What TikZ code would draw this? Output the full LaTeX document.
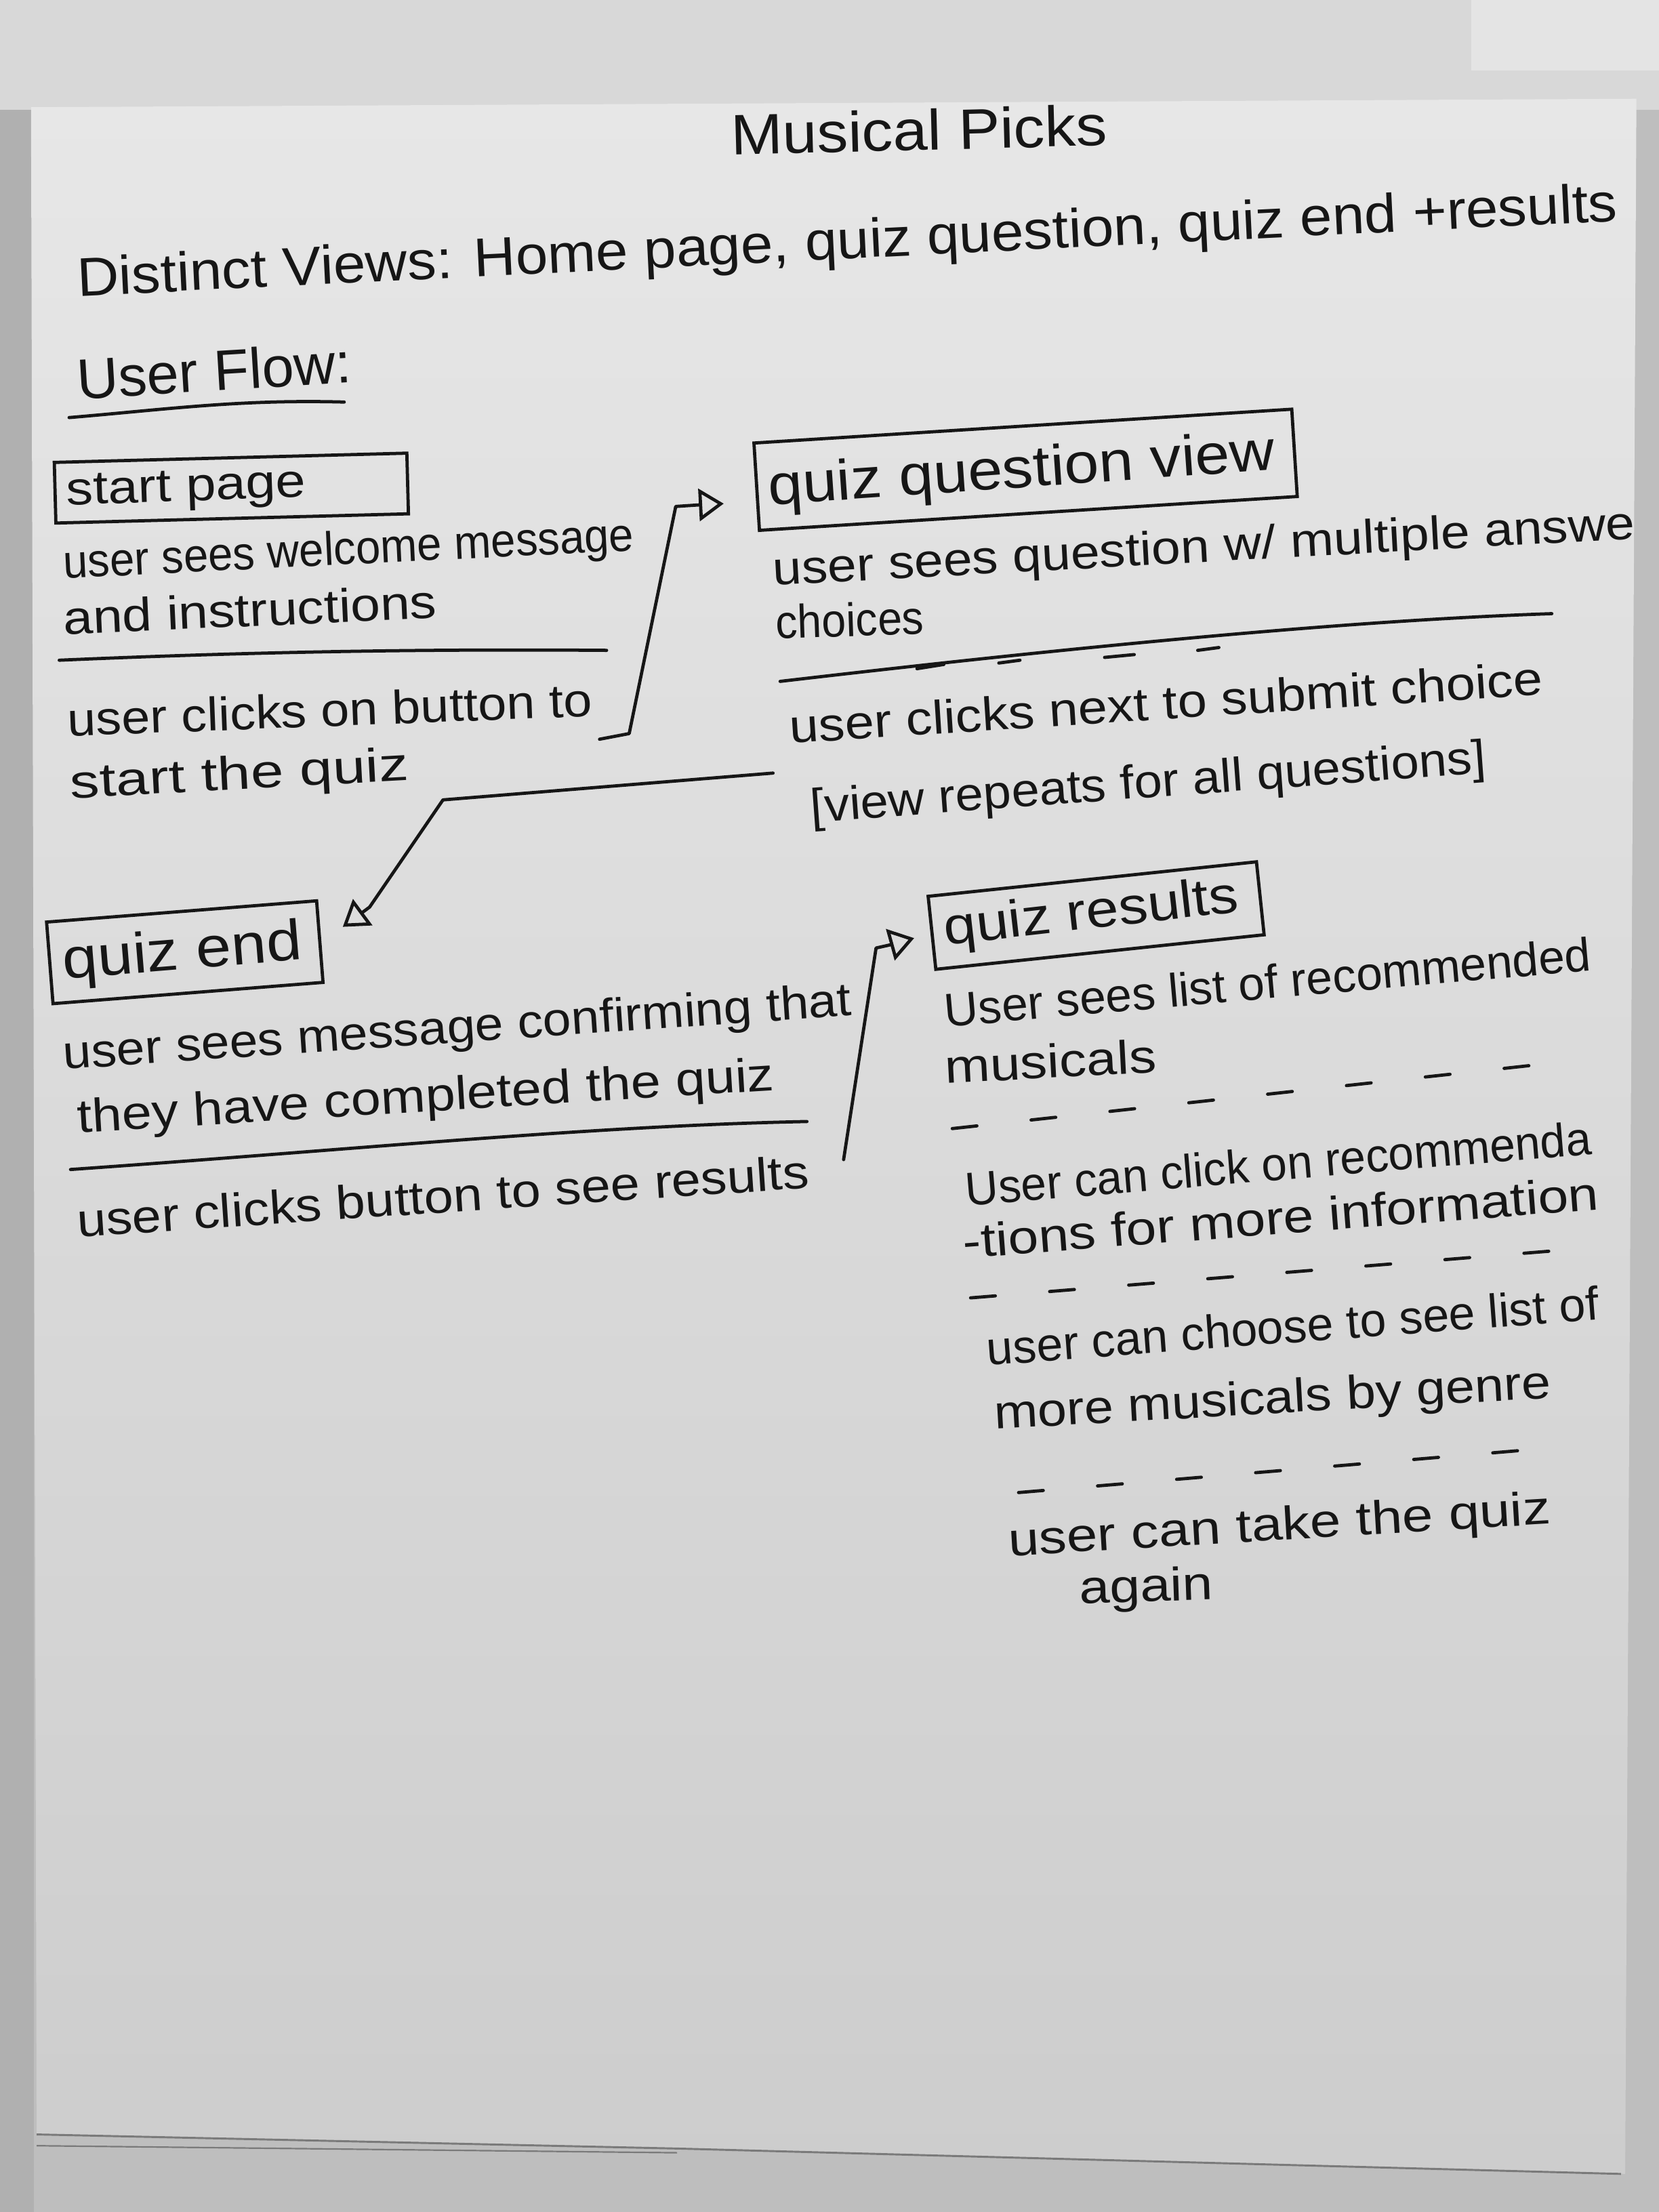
\documentclass[tikz,border=0pt]{standalone}
\usepackage{fontspec}
\setmainfont{Liberation Sans}
\usetikzlibrary{arrows.meta}
% one drawing unit
\newlength\ux
\setlength\ux{0.02cm}
% handwritten line: keeps its height, stretched to a given width in drawing units
\newcommand\handw[2]{\resizebox{#1\ux}{\height}{#2}}
\definecolor{inkc}{HTML}{161616}
\definecolor{bgc}{HTML}{BEBEBE}
\definecolor{bandc}{HTML}{D8D8D8}
\definecolor{bandlight}{HTML}{E4E4E4}
\definecolor{leftc}{HTML}{B0B0B0}
\definecolor{papertop}{HTML}{E7E7E7}
\definecolor{paperbot}{HTML}{CDCDCD}
\definecolor{edgec}{HTML}{7A7A7A}
\begin{document}
\begin{tikzpicture}[x=0.02cm,y=-0.02cm,
  pen/.style={draw=inkc, line width=1.3pt, line cap=round, line join=round},
  txt/.style={anchor=base west, inner sep=0pt, text=inkc, font=\fontsize{19}{22}\selectfont},
  bigtxt/.style={txt, font=\fontsize{23}{26}\selectfont},
  viewbox/.style={draw=inkc, line width=1.3pt, inner sep=0pt, anchor=center},
  flow/.style={pen, -{Triangle[open,length=10pt,width=13pt]}},
  divider/.style={pen},
  sketchdash/.style={pen, dash pattern=on 10pt off 22pt}]

\useasboundingbox (0,0) rectangle (1176,1568);

% photo background and sheet of paper
\fill[bgc] (0,0) rectangle (1176,1568);
\fill[bandc] (0,0) rectangle (1176,78);
\fill[bandlight] (1043,0) rectangle (1176,50);
\fill[leftc] (0,78) rectangle (24,1568);
\shade[top color=papertop, bottom color=paperbot]
  (22,76) -- (1160,70) -- (1152,1541) -- (480,1523) -- (26,1513) -- cycle;
\draw[edgec, line width=0.8pt] (26,1513) -- (480,1523) -- (1149,1541);
\draw[edgec, line width=0.6pt] (26,1521) -- (480,1526);

% headings
\node[bigtxt, rotate=1.5] (title) at (518,110) {\handw{267}{Musical Picks}};
\node[txt, font=\fontsize{22}{24}\selectfont, rotate=2.8] (views) at (55,210) {\handw{1093}{Distinct Views: Home page, quiz question, quiz end +results}};
\node[bigtxt, rotate=3.5] (flowhead) at (55,283) {\handw{195}{User Flow:}};
\draw[pen] (49,296) .. controls (120,290) and (170,283) .. (244,285);

% start page
\node[viewbox, minimum width=250\ux, minimum height=43\ux, rotate=1.5] (start) at (164,346) {};
\node[txt, rotate=2] (startlbl) at (47,358) {\handw{170}{start page}};
\node[txt, rotate=2.8] (s1) at (45,410) {\handw{405}{user sees welcome message}};
\node[txt, rotate=2.6] (s2) at (45,450) {\handw{265}{and instructions}};
\draw[divider] (42,468) .. controls (180,462) and (300,460) .. (430,461);
\node[txt, rotate=2.2] (s3) at (48,522) {\handw{372}{user clicks on button to}};
\node[txt, rotate=3.1] (s4) at (50,566) {\handw{240}{start the quiz}};

% quiz question view
\node[viewbox, minimum width=382\ux, minimum height=62\ux, rotate=3.6] (question) at (727,333) {};
\node[bigtxt, rotate=4] (qlbl) at (545,358) {\handw{360}{quiz question view}};
\node[txt, rotate=3.1] (q1) at (548,415) {\handw{612}{user sees question w/ multiple answe}};
\node[txt, rotate=2] (q2) at (550,453) {\handw{105}{choices}};
\draw[divider] (553,483) .. controls (750,460) and (950,440) .. (1100,435);
\foreach \xa/\ya/\xb/\yb in {650/474/669/471, 708/470/723/468, 783/466/804/464, 849/461/864/459}
  \draw[pen] (\xa,\ya) -- (\xb,\yb);
\node[txt, rotate=3.7] (q3) at (560,527) {\handw{535}{user clicks next to submit choice}};
\node[txt, rotate=4.2] (q4) at (575,583) {\handw{480}{[view repeats for all questions]}};

% quiz end
\node[viewbox, minimum width=192\ux, minimum height=58\ux, rotate=4.5] (quizend) at (131,675) {};
\node[bigtxt, rotate=4.7] (elbl) at (45,694) {\handw{170}{quiz end}};
\node[txt, rotate=3.9] (e1) at (45,758) {\handw{560}{user sees message confirming that}};
\node[txt, rotate=3.5] (e2) at (55,803) {\handw{495}{they have completed the quiz}};
\draw[divider] (50,829) .. controls (250,815) and (420,798) .. (572,795);
\node[txt, rotate=3.85] (e3) at (55,877) {\handw{520}{user clicks button to see results}};

% quiz results
\node[viewbox, minimum width=234\ux, minimum height=52\ux, rotate=6] (results) at (777,649) {};
\node[txt, font=\fontsize{21}{24}\selectfont, rotate=6.5] (rlbl) at (670,670) {\handw{210}{quiz results}};
\node[txt, rotate=5] (r1) at (670,728) {\handw{460}{User sees list of recommended}};
\node[txt, rotate=3] (r2) at (670,768) {\handw{150}{musicals}};
\draw[sketchdash] (675,800) -- (1115,752);
\node[txt, rotate=4.75] (r3) at (685,855) {\handw{445}{User can click on recommenda}};
\node[txt, rotate=4.4] (r4) at (683,892) {\handw{452}{-tions for more information}};
\draw[sketchdash] (688,920) -- (1122,885);
\node[txt, rotate=4.3] (r5) at (700,968) {\handw{435}{user can choose to see list of}};
\node[txt, rotate=3.2] (r6) at (705,1013) {\handw{395}{more musicals by genre}};
\draw[sketchdash] (722,1058) -- (1104,1026);
\node[txt, rotate=3.4] (r7) at (715,1103) {\handw{385}{user can take the quiz}};
\node[txt, rotate=2] (r8) at (765,1137) {\handw{95}{again}};

% connectors between the views
\coordinate (f1a) at (425,524);
\coordinate (f1b) at (446,520);
\coordinate (f1c) at (479,359);
\coordinate (f1d) at (494,358);
\coordinate (f1e) at (513,357);
\draw[flow] (f1a) -- (f1b) -- (f1c) -- (f1d) -- (f1e);

\coordinate (f2a) at (548,548);
\coordinate (f2b) at (314,567);
\coordinate (f2c) at (262,643);
\coordinate (f2d) at (243,657);
\draw[flow] (f2a) -- (f2b) -- (f2c) -- (f2d);

\coordinate (f3a) at (598,822);
\coordinate (f3b) at (621,672);
\coordinate (f3c) at (630,670);
\coordinate (f3d) at (648,665);
\draw[flow] (f3a) -- (f3b) -- (f3c) -- (f3d);
\end{tikzpicture}
\end{document}
